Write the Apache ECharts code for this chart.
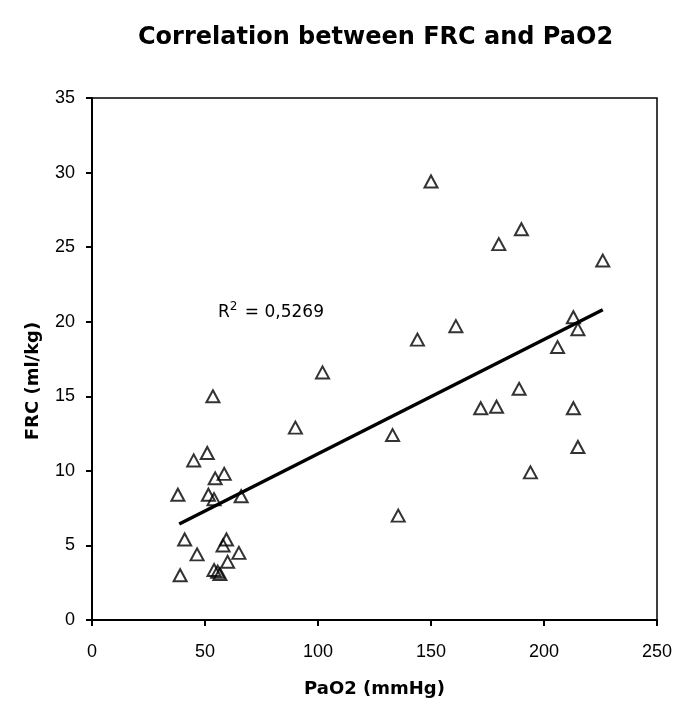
<!DOCTYPE html>
<html>
<head>
<meta charset="utf-8">
<script src="https://cdn.jsdelivr.net/npm/echarts@6/dist/echarts.min.js"></script>
<style>
  html, body { margin: 0; padding: 0; background: #ffffff; }
  #chart { width: 685px; height: 715px; }
</style>
</head>
<body>
<div id="chart"></div>
<script>
// ---- data ----
var titleText = 'Correlation between FRC and PaO2';
var xName = 'PaO2 (mmHg)';
var yName = 'FRC (ml/kg)';
var paO2 = [53.5, 45, 51, 54.5, 58.5, 38, 51.5, 54, 66, 41, 59.5, 58, 46.5, 65, 60, 39, 54, 55.6, 56.6,
            150, 190, 180, 226, 213, 215, 206, 161, 144, 102, 189, 172, 179, 213, 90, 133, 215, 194, 135.5];
var frc = [15.0, 10.7, 11.2, 9.5, 9.8, 8.4, 8.4, 8.1, 8.3, 5.4, 5.4, 5.0, 4.4, 4.5, 3.9, 3.0, 3.35, 3.24, 3.08,
           29.4, 26.2, 25.2, 24.1, 20.3, 19.5, 18.3, 19.7, 18.8, 16.6, 15.5, 14.2, 14.3, 14.2, 12.9, 12.4, 11.6, 9.9, 7.0];
var trendX = [38.6, 226];
var trendY = [6.44, 20.8];
var r2Text = '0,5269';
var xTicks = { min: 0, max: 250, interval: 50 };
var yTicks = { min: 0, max: 35, interval: 5 };

var points = paO2.map(function (x, i) { return [x, frc[i]]; });
var trend = trendX.map(function (x, i) { return [x, trendY[i]]; });

var chart = echarts.init(document.getElementById('chart'), null, { renderer: 'canvas' });
chart.setOption({
  backgroundColor: '#ffffff',
  animation: false,
  title: {
    text: titleText,
    left: 133,
    top: 21,
    textStyle: { fontFamily: 'DejaVu Sans', fontWeight: 'bold', fontSize: 24, color: '#000' }
  },
  grid: {
    left: 92, right: 28, top: 98, bottom: 95,
    show: true, borderColor: '#000', borderWidth: 1.5, backgroundColor: 'transparent'
  },
  xAxis: {
    type: 'value',
    min: xTicks.min, max: xTicks.max, interval: xTicks.interval,
    name: xName,
    nameLocation: 'middle',
    nameGap: 60,
    nameTextStyle: { fontFamily: 'DejaVu Sans', fontWeight: 'bold', fontSize: 18, color: '#000' },
    axisLine: { show: true, onZero: false, lineStyle: { color: '#000', width: 2 } },
    axisTick: { show: true, inside: false, length: 6, lineStyle: { color: '#000', width: 2 } },
    axisLabel: { margin: 23, fontFamily: 'Liberation Sans', fontSize: 18, color: '#000' },
    splitLine: { show: false }
  },
  yAxis: {
    type: 'value',
    min: yTicks.min, max: yTicks.max, interval: yTicks.interval,
    name: yName,
    nameLocation: 'middle',
    nameGap: 50,
    nameTextStyle: { fontFamily: 'DejaVu Sans', fontWeight: 'bold', fontSize: 18, color: '#000', padding: [0, 44, 0, 0] },
    axisLine: { show: true, onZero: false, lineStyle: { color: '#000', width: 2 } },
    axisTick: { show: true, inside: false, length: 6, lineStyle: { color: '#000', width: 2 } },
    axisLabel: { margin: 17, fontFamily: 'Liberation Sans', fontSize: 18, color: '#000' },
    splitLine: { show: false }
  },
  series: [
    {
      type: 'line',
      data: trend,
      symbol: 'none',
      lineStyle: { color: '#000', width: 3.5 },
      z: 3,
      silent: true
    },
    {
      type: 'scatter',
      data: points,
      symbol: 'triangle',
      symbolSize: [13, 12],
      itemStyle: { color: 'rgba(255,255,255,0)', borderColor: '#000', borderWidth: 2 },
      z: 4
    }
  ],
  graphic: [
    {
      type: 'text',
      left: 218,
      top: 301,
      style: {
        text: '{a|R}{b|2}{a| = ' + r2Text + '}',
        rich: {
          a: { fontFamily: 'DejaVu Sans', fontSize: 17, fill: '#000', color: '#000', verticalAlign: 'bottom' },
          b: { fontFamily: 'DejaVu Sans', fontSize: 12, fill: '#000', color: '#000', verticalAlign: 'top', padding: [0, 2, 8, 0] }
        },
        fill: '#000'
      }
    }
  ]
});
</script>
</body>
</html>
